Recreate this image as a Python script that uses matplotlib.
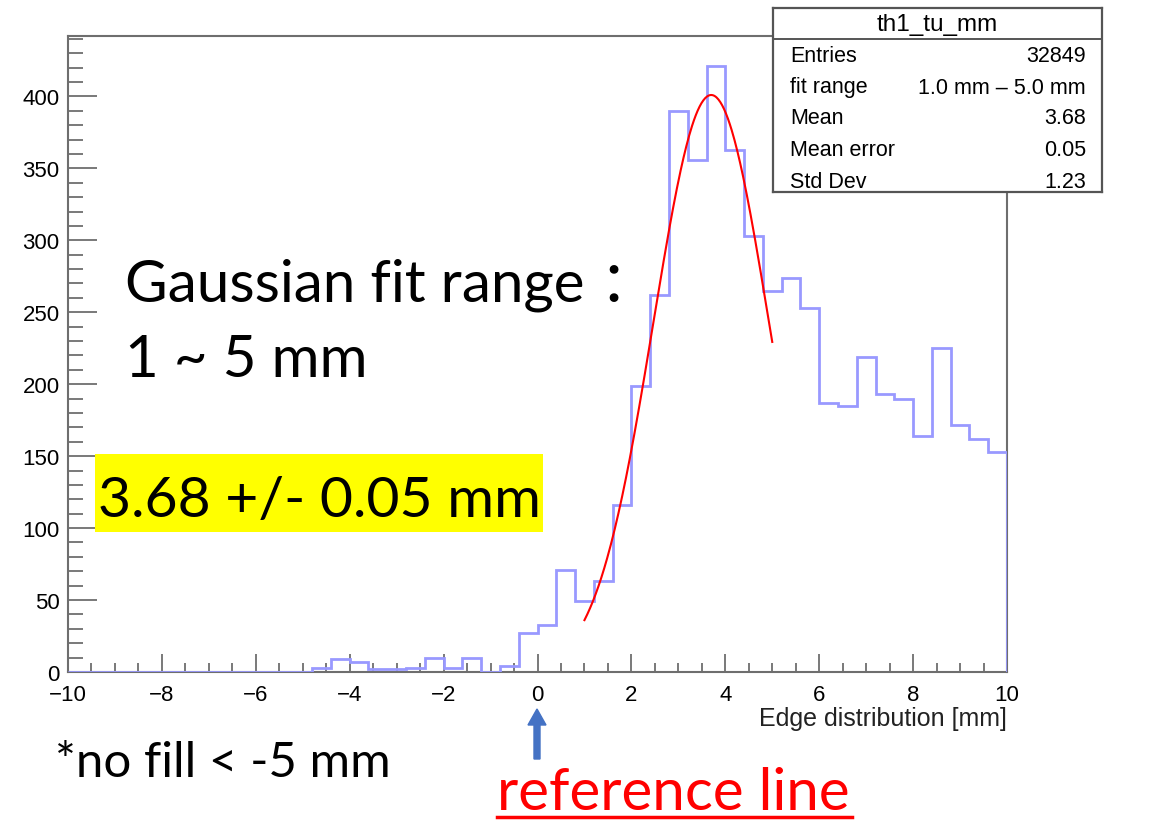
import numpy as np
import matplotlib
matplotlib.use("Agg")
import matplotlib.pyplot as plt
from matplotlib.patches import FancyArrow, Rectangle
from matplotlib.lines import Line2D
from matplotlib.ticker import MultipleLocator

# histogram th1_tu_mm: 50 bins of 0.4 mm between -10 and 10 mm
bin_edges = np.linspace(-10, 10, 51)
counts = [0, 0, 0, 0, 0, 0, 0, 0, 0, 0, 0, 0, 0,
          3, 9, 7, 2, 2, 3, 10, 3, 10, 0, 4, 27,
          33, 71, 49, 63, 116, 199, 262, 390, 356, 421,
          363, 303, 265, 274, 253, 187, 185, 219, 193, 190,
          164, 225, 172, 162, 153]

# gaussian fit result
fit_amp = 401.0
fit_mean = 3.70
fit_sigma = 1.23
fit_lo, fit_hi = 1.0, 5.0

# stats box
stats_title = "th1_tu_mm"
stats_rows = [("Entries", "32849"),
              ("fit range", "1.0 mm \u2013 5.0 mm"),
              ("Mean", "3.68"),
              ("Mean error", "0.05"),
              ("Std Dev", "1.23")]

W, H = 1152, 828


def fx(px):
    return px / W


def fy(py):
    return 1 - py / H


root_font = "Liberation Sans"
note_font = ["Lato", "Noto Sans CJK SC", "DejaVu Sans"]
frame_col = "#6e6e6e"

fig = plt.figure(figsize=(W / 100, H / 100), dpi=100)
ax = fig.add_axes([fx(68), fy(673), fx(1007) - fx(68), fy(37) - fy(673)])

ax.stairs(counts, bin_edges, color="#9999ff", lw=2, zorder=3)

xf = np.linspace(fit_lo, fit_hi, 200)
yf = fit_amp * np.exp(-0.5 * ((xf - fit_mean) / fit_sigma) ** 2)
ax.plot(xf, yf, color="#ff0000", lw=1.5, zorder=4)

ax.set_xlim(-10, 10)
ax.set_ylim(0, 442)

ax.xaxis.set_major_locator(MultipleLocator(2))
ax.xaxis.set_minor_locator(MultipleLocator(0.5))
ax.yaxis.set_major_locator(MultipleLocator(50))
ax.yaxis.set_minor_locator(MultipleLocator(10))
ax.tick_params(axis="x", which="major", direction="in", length=13, width=1.3,
               color=frame_col, labelsize=16, pad=9)
ax.tick_params(axis="x", which="minor", direction="in", length=6.5, width=1.3,
               color=frame_col)
ax.tick_params(axis="y", which="major", direction="in", length=21, width=1.3,
               color=frame_col, labelsize=16, pad=6)
ax.tick_params(axis="y", which="minor", direction="in", length=10.5, width=1.3,
               color=frame_col)
for lab in ax.get_xticklabels() + ax.get_yticklabels():
    lab.set_fontfamily(root_font)
for sp in ax.spines.values():
    sp.set_color(frame_col)
    sp.set_linewidth(1.5)

fig.text(fx(1007), fy(719), "Edge distribution [mm]", ha="right", va="center",
         fontsize=18, family=root_font, color="#222222")

# stats box
sax = fig.add_axes([fx(773), fy(193), fx(1102) - fx(773), fy(9) - fy(193)])
sax.set_xticks([])
sax.set_yticks([])
sax.set_xlim(0, 1)
sax.set_ylim(0, 1)
for sp in sax.spines.values():
    sp.set_color("#555555")
    sp.set_linewidth(1.6)
box_h = 193 - 9
sep = 1 - (40 - 9) / box_h
sax.add_line(Line2D([0, 1], [sep, sep], color="#555555", lw=1.4))
sax.text(0.5, 1 - (25 - 9) / box_h, stats_title, ha="center", va="center",
         fontsize=17.5, family=root_font)
row_y = [57, 88, 119, 150, 182]
for (name, val), py in zip(stats_rows, row_y):
    yy = 1 - (py - 9) / box_h
    sax.text((790 - 773) / 329, yy, name, ha="left", va="center",
             fontsize=15.5, family=root_font)
    sax.text((1086 - 773) / 329, yy, val, ha="right", va="center",
             fontsize=15.5, family=root_font)

# annotations
fig.text(fx(125), fy(302), "Gaussian fit range \uff1a", ha="left", va="baseline",
         fontsize=42, family=note_font)
fig.text(fx(125), fy(377), "1 ~ 5 mm", ha="left", va="baseline",
         fontsize=42, family=note_font)

fig.patches.append(Rectangle((fx(95), fy(533)), fx(543) - fx(95), fy(455) - fy(533),
                             transform=fig.transFigure, facecolor="#ffff00",
                             edgecolor="none", zorder=5))
fig.text(fx(98), fy(517), "3.68 +/- 0.05 mm", ha="left", va="baseline",
         fontsize=41, family=note_font, zorder=6)

fig.text(fx(55), fy(777), "*no fill < -5 mm", ha="left", va="baseline",
         fontsize=35.5, family=note_font)

fig.text(fx(497), fy(810), "reference line", ha="left", va="baseline",
         fontsize=42, family=note_font, color="#ff0000")
fig.add_artist(Line2D([fx(497), fx(852)], [fy(818), fy(818)],
                      transform=fig.transFigure, color="#ff0000", lw=2.5))

fig.patches.append(FancyArrow(fx(537), fy(760), 0, fy(710) - fy(760),
                              width=6 / W, head_width=18 / W, head_length=16 / H,
                              length_includes_head=True, transform=fig.transFigure,
                              color="#4472c4", zorder=5))

fig.savefig("out.png", dpi=100)
